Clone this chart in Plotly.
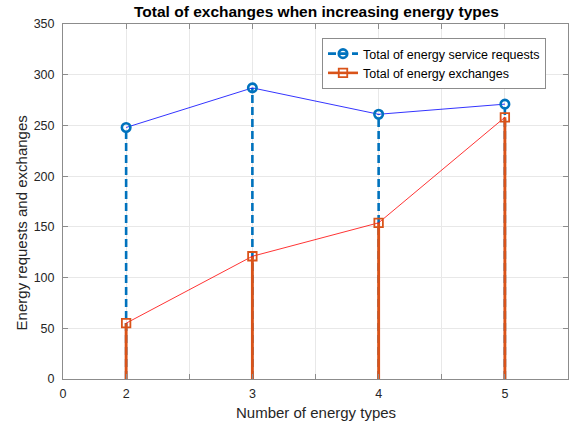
import plotly.graph_objects as go

# Data
energy_types = [2, 3, 4, 5]
requests = [248, 287, 261, 271]
exchanges = [55, 121, 154, 258]
x_tick_vals = [0.5, 1, 1.5, 2, 2.5, 3, 3.5, 4, 4.5]
x_tick_text = ["0", "2", "", "3", "", "4", "", "5", ""]
y_tick_vals = [0, 50, 100, 150, 200, 250, 300, 350]

xpos = list(range(1, len(energy_types) + 1))

BLUE = "#0072BD"
RED = "#D95319"

def stem_xy(xs, ys):
    sx, sy = [], []
    for x, y in zip(xs, ys):
        sx += [x, x, None]
        sy += [0, y, None]
    return sx, sy

fig = go.Figure()

sx, sy = stem_xy(xpos, requests)
fig.add_trace(go.Scatter(x=sx, y=sy, mode="lines", showlegend=False, hoverinfo="skip",
                         line=dict(color=BLUE, width=2.6, dash="8px,4px")))
fig.add_trace(go.Scatter(x=xpos, y=requests, mode="lines", showlegend=False,
                         line=dict(color="#0000FF", width=0.8)))
sx, sy = stem_xy(xpos, exchanges)
fig.add_trace(go.Scatter(x=sx, y=sy, mode="lines", showlegend=False, hoverinfo="skip",
                         line=dict(color=RED, width=2.9)))
fig.add_trace(go.Scatter(x=xpos, y=exchanges, mode="lines", showlegend=False,
                         line=dict(color="#FF0000", width=0.8)))
fig.add_trace(go.Scatter(x=xpos, y=requests, mode="markers", showlegend=False,
                         marker=dict(symbol="circle-open", size=8.5, color=BLUE,
                                     line=dict(width=2.6, color=BLUE))))
fig.add_trace(go.Scatter(x=xpos, y=exchanges, mode="markers", showlegend=False,
                         marker=dict(symbol="square-open", size=8.5, color=RED,
                                     line=dict(width=1.8, color=RED))))
fig.add_trace(go.Scatter(x=[None], y=[None], mode="lines+markers",
                         name="Total of energy service requests",
                         line=dict(color=BLUE, width=2.6, dash="8px,4px"),
                         marker=dict(symbol="circle-open", size=8.5, color=BLUE,
                                     line=dict(width=2.6, color=BLUE))))
fig.add_trace(go.Scatter(x=[None], y=[None], mode="lines+markers",
                         name="Total of energy exchanges",
                         line=dict(color=RED, width=2.6),
                         marker=dict(symbol="square-open", size=8.5, color=RED,
                                     line=dict(width=1.8, color=RED))))

axis_common = dict(showline=True, linecolor="#8C8C8C", linewidth=1, mirror="ticks",
                   ticks="inside", ticklen=5, tickcolor="#8C8C8C",
                   showgrid=True, gridcolor="#E8E8E8", gridwidth=1,
                   zeroline=False, automargin=False,
                   tickfont=dict(size=12.5, color="#262626"))

fig.update_xaxes(range=[0.5, 4.5], tickvals=x_tick_vals, ticktext=x_tick_text,
                 ticklabelstandoff=3, **axis_common)
fig.update_yaxes(range=[0, 350], tickvals=y_tick_vals,
                 ticklabelstandoff=5, **axis_common)

fig.add_annotation(text="Number of energy types", xref="paper", yref="paper",
                   x=0.5, y=-0.093, xanchor="center", yanchor="middle",
                   showarrow=False, font=dict(size=15, color="#262626"))
fig.add_annotation(text="Energy requests and exchanges", xref="paper", yref="paper",
                   x=-0.082, y=0.44, xanchor="center", yanchor="middle", textangle=-90,
                   showarrow=False, font=dict(size=15, color="#262626"))

fig.update_layout(
    width=570, height=428,
    margin=dict(l=63, r=2, t=24, b=49, autoexpand=False),
    plot_bgcolor="white", paper_bgcolor="white",
    font=dict(family="Liberation Sans, Arial, sans-serif", color="#262626"),
    title=dict(text="<b>Total of exchanges when increasing energy types</b>",
               x=316.5 / 570, xanchor="center", y=1 - 12 / 428, yanchor="middle",
               yref="container", automargin=False,
               font=dict(size=15.5, color="#000000")),
    legend=dict(x=(322 - 63) / 505, y=(379 - 38) / 355, xanchor="left", yanchor="top",
                bordercolor="#8C8C8C", borderwidth=1, bgcolor="white",
                font=dict(size=12.5, color="#000000"), tracegroupgap=0,
                itemwidth=30),
)

fig.write_html("out.html", config={"displayModeBar": False},
               post_script="document.body.style.margin='0';")
